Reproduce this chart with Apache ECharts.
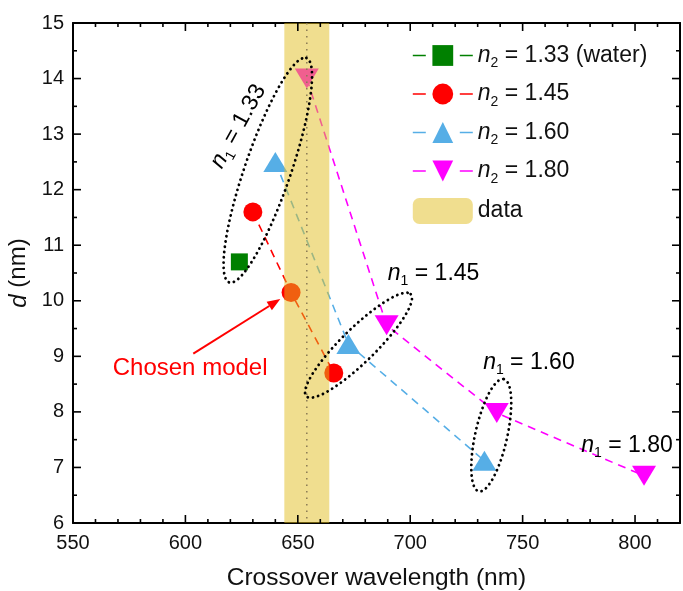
<!DOCTYPE html>
<html>
<head>
<meta charset="utf-8">
<script src="https://cdn.jsdelivr.net/npm/echarts@6/dist/echarts.min.js"></script>
<style>
  html, body { margin: 0; padding: 0; background: #fff; }
  #chart { width: 683px; height: 591px; }
</style>
</head>
<body>
<div id="chart"></div>
<script>
// data
var xTicks = [550, 600, 650, 700, 750, 800];
var yTicks = [6, 7, 8, 9, 10, 11, 12, 13, 14, 15];
var n133 = [[624, 10.7]];
var n145 = [[630, 11.6], [647, 10.15], [666, 8.7]];
var n160 = [[640, 12.5], [672.5, 9.22], [733, 7.12]];
var n180 = [[654, 14.0], [689.5, 9.56], [738.5, 7.98], [804, 6.85]];
var bandRange = [644, 664];
var bandCenter = [654];

var FONT = 'Liberation Sans, Arial, sans-serif';
var xMin = 550, xMax = 820, yMin = 6, yMax = 15;

var legendNames = {
    w133: '{i|n}{s|2}{t| = 1.33 (water)}',
    w145: '{i|n}{s|2}{t| = 1.45}',
    w160: '{i|n}{s|2}{t| = 1.60}',
    w180: '{i|n}{s|2}{t| = 1.80}',
    data: '{t|data}'
};
var rich = {
    i: { fontStyle: 'italic', fontSize: 23, fontFamily: FONT, color: '#111', lineHeight: 30, verticalAlign: 'middle' },
    s: { fontSize: 14, fontFamily: FONT, color: '#111', lineHeight: 14, verticalAlign: 'bottom' },
    t: { fontSize: 23, fontFamily: FONT, color: '#111', lineHeight: 30, verticalAlign: 'middle' }
};

function lineSeries(name, data, color, symbol, size) {
    return {
        name: name, type: 'line', data: data,
        symbol: symbol, symbolSize: size,
        itemStyle: { color: color },
        lineStyle: { color: color, width: 1.6, type: [8, 6] },
        z: 2
    };
}

var chart = echarts.init(document.getElementById('chart'));

var axLine = { show: true, onZero: false, lineStyle: { color: '#000', width: 2 } };

var option = {
    animation: false,
    grid: { left: 73, right: 3, top: 23, bottom: 68, outerBoundsMode: 'none' },
    legend: {
        orient: 'vertical', left: 407, top: 39,
        itemWidth: 60, itemHeight: 26, itemGap: 12,
        data: ['w133', 'w145', 'w160', 'w180', 'data'],
        formatter: function (n) { return legendNames[n]; },
        textStyle: { rich: rich },
        lineStyle: { type: [13, 34], width: 1.6 }
    },
    xAxis: [{
        type: 'value', min: xMin, max: xMax, position: 'bottom',
        splitLine: { show: false }, axisLine: axLine, axisTick: { show: false },
        name: 'Crossover wavelength (nm)', nameLocation: 'middle', nameGap: 43,
        nameTextStyle: { fontSize: 24.5, fontFamily: FONT, color: '#111' },
        axisLabel: { customValues: xTicks, fontSize: 20, fontFamily: FONT, color: '#111', margin: 10 }
    }, {
        type: 'value', min: xMin, max: xMax, position: 'top',
        splitLine: { show: false }, axisLine: axLine, axisTick: { show: false },
        axisLabel: { show: false }
    }],
    yAxis: [{
        type: 'value', min: yMin, max: yMax, interval: 1, position: 'left',
        splitLine: { show: false }, axisLine: axLine, axisTick: { show: false },
        name: '{i|d} (nm)', nameLocation: 'middle', nameGap: 40,
        nameTextStyle: { fontSize: 24, fontFamily: FONT, color: '#111',
            rich: { i: { fontStyle: 'italic', fontSize: 24, fontFamily: FONT, color: '#111' } } },
        axisLabel: { customValues: yTicks, fontSize: 20, fontFamily: FONT, color: '#111', margin: 9 }
    }, {
        type: 'value', min: yMin, max: yMax, interval: 1, position: 'right',
        splitLine: { show: false }, axisLine: axLine, axisTick: { show: false },
        axisLabel: { show: false }
    }],
    series: [
        lineSeries('w133', n133, '#008000', 'rect', 17),
        lineSeries('w145', n145, '#ff0000', 'circle', 19),
        lineSeries('w160', n160, '#56aee6', 'triangle', [24, 20]),
        lineSeries('w180', n180, '#ff00ff', 'path://M0,0 L12,0 L6,10 Z', [24, 20]),
        {
            name: 'data', type: 'custom', z: 5,
            itemStyle: { color: 'rgba(225,190,32,0.5)' },
            data: [[bandRange[0], bandRange[1], bandCenter[0]]],
            encode: { x: [0, 1, 2] },
            renderItem: function (params, api) {
                var p0 = api.coord([api.value(0), yMax]);
                var p1 = api.coord([api.value(1), yMin]);
                var c = api.coord([api.value(2), yMin]);
                return {
                    type: 'group',
                    children: [{
                        type: 'rect',
                        shape: { x: p0[0], y: p0[1], width: p1[0] - p0[0], height: p1[1] - p0[1] },
                        style: { fill: 'rgba(225,190,32,0.5)' }
                    }, {
                        type: 'line',
                        shape: { x1: c[0], y1: p0[1], x2: c[0], y2: p1[1] },
                        style: { stroke: '#8a7a55', lineWidth: 1.5, lineDash: [1.5, 5] }
                    }]
                };
            }
        }
    ]
};
chart.setOption(option);

// annotations placed in data coordinates
var ellipses = [
    { a: [619.5, 10.33], b: [653.8, 14.37], minor: 23 },
    { a: [653.8, 8.28], b: [700.2, 10.12], minor: 17 },
    { a: [730.5, 6.57], b: [741.6, 8.59], minor: 16 }
];
var labels = [
    { at: [623.5, 13.14], text: '{i|n}{s|1}{t| = 1.33}', rot: 61 },
    { at: [710.4, 10.49], text: '{i|n}{s|1}{t| = 1.45}', rot: 0 },
    { at: [752.8, 8.89], text: '{i|n}{s|1}{t| = 1.60}', rot: 0 },
    { at: [796.4, 7.40], text: '{i|n}{s|1}{t| = 1.80}', rot: 0 }
];
var chosen = { at: [602.1, 8.78], from: [603.5, 9.05], to: [642.2, 10.03] };

function px(p) { return chart.convertToPixel({ xAxisIndex: 0, yAxisIndex: 0 }, p); }

var g = [];

// inward ticks on all four sides (major + minor)
var tl = px([xMin, yMax]), br = px([xMax, yMin]);
function tick(x1, y1, x2, y2, w) {
    g.push({ type: 'line', z: 50, shape: { x1: x1, y1: y1, x2: x2, y2: y2 },
        style: { stroke: '#000', lineWidth: w } });
}
for (var v = xMin; v <= xMax; v += 10) {
    var X = px([v, yMin])[0];
    var L = (v % 50 === 0) ? 8 : 4;
    tick(X, br[1], X, br[1] - L, 1.6);
    tick(X, tl[1], X, tl[1] + L, 1.6);
}
for (var u = yMin; u <= yMax; u += 0.5) {
    var Y = px([xMin, u])[1];
    var M = (u % 1 === 0) ? 8 : 4;
    tick(tl[0], Y, tl[0] + M, Y, 1.6);
    tick(br[0], Y, br[0] - M, Y, 1.6);
}

ellipses.forEach(function (e) {
    var pa = px(e.a), pb = px(e.b);
    var cx = (pa[0] + pb[0]) / 2, cy = (pa[1] + pb[1]) / 2;
    var A = Math.hypot(pb[0] - pa[0], pb[1] - pa[1]) / 2;
    var th = Math.atan2(pb[1] - pa[1], pb[0] - pa[0]);
    var pts = [];
    for (var k = 0; k < 120; k++) {
        var t = k / 120 * Math.PI * 2;
        var ex = A * Math.cos(t), ey = e.minor * Math.sin(t);
        pts.push([cx + ex * Math.cos(th) - ey * Math.sin(th), cy + ex * Math.sin(th) + ey * Math.cos(th)]);
    }
    g.push({ type: 'polygon', z: 100, shape: { points: pts },
        style: { fill: 'none', stroke: '#000', lineWidth: 2.8, lineDash: [0.1, 5.2], lineCap: 'round' } });
});
labels.forEach(function (l) {
    var p = px(l.at);
    g.push({ type: 'text', z: 100, x: p[0], y: p[1], rotation: l.rot * Math.PI / 180,
        style: { text: l.text, rich: rich, align: 'center', verticalAlign: 'middle' } });
});
var cp = px(chosen.at), f = px(chosen.from), tpx = px(chosen.to);
g.push({ type: 'text', z: 100, x: cp[0], y: cp[1],
    style: { text: 'Chosen model', fontSize: 24, fontFamily: FONT, fill: '#ff0000', align: 'center', verticalAlign: 'middle' } });
var ang = Math.atan2(tpx[1] - f[1], tpx[0] - f[0]);
var hl = 13, hw = 5;
var base = [tpx[0] - hl * Math.cos(ang), tpx[1] - hl * Math.sin(ang)];
g.push({ type: 'line', z: 100, shape: { x1: f[0], y1: f[1], x2: base[0], y2: base[1] },
    style: { stroke: '#ff0000', lineWidth: 2 } });
g.push({ type: 'polygon', z: 100, shape: { points: [
    tpx,
    [base[0] + hw * Math.sin(ang), base[1] - hw * Math.cos(ang)],
    [base[0] - hw * Math.sin(ang), base[1] + hw * Math.cos(ang)]
] }, style: { fill: '#ff0000' } });

chart.setOption({ graphic: g });
</script>
</body>
</html>
